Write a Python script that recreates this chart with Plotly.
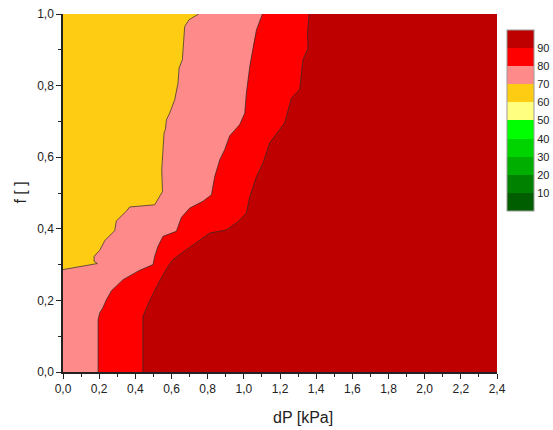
import plotly.graph_objects as go

# ---- data (dP in kPa, f dimensionless) ----
# boundary between 60-70 (yellow) and 70-80 (pink) region
b70_dp = [0.000, 0.190, 0.172, 0.172, 0.203, 0.231, 0.286, 0.295, 0.350, 0.369, 0.507, 0.516,
          0.550, 0.546, 0.553, 0.559, 0.566, 0.572, 0.590, 0.618, 0.636, 0.642, 0.660, 0.668,
          0.673, 0.697, 0.750]
b70_f = [0.286, 0.303, 0.309, 0.323, 0.340, 0.367, 0.395, 0.422, 0.449, 0.461, 0.467, 0.474,
         0.504, 0.565, 0.612, 0.668, 0.677, 0.705, 0.723, 0.761, 0.807, 0.849, 0.872, 0.919,
         0.965, 0.984, 1.000]
# boundary between 70-80 (pink) and 80-90 (red)
b80_dp = [0.194, 0.194, 0.203, 0.221, 0.240, 0.268, 0.332, 0.424, 0.498, 0.507, 0.525, 0.553,
          0.627, 0.655, 0.701, 0.774, 0.821, 0.839, 0.867, 0.894, 0.922, 0.977, 1.005, 1.014,
          1.033, 1.055, 1.070, 1.103]
b80_f = [0.000, 0.146, 0.165, 0.180, 0.202, 0.227, 0.258, 0.284, 0.300, 0.323, 0.351, 0.379,
         0.393, 0.432, 0.458, 0.477, 0.495, 0.546, 0.593, 0.621, 0.660, 0.691, 0.723, 0.779,
         0.854, 0.919, 0.956, 1.000]
# boundary between 80-90 (red) and 90-100 (dark red)
b90_dp = [0.442, 0.442, 0.480, 0.535, 0.575, 0.608, 0.655, 0.719, 0.811, 0.904, 0.968, 1.014,
          1.033, 1.070, 1.106, 1.143, 1.226, 1.263, 1.309, 1.327, 1.355, 1.352, 1.361]
b90_f = [0.000, 0.155, 0.200, 0.255, 0.290, 0.314, 0.332, 0.354, 0.388, 0.397, 0.420, 0.444,
         0.490, 0.546, 0.584, 0.640, 0.696, 0.765, 0.789, 0.872, 0.905, 0.947, 1.000]

levels = [0, 10, 20, 30, 40, 50, 60, 70, 80, 90, 100]
level_colors = ["#005E00", "#008200", "#00AE00", "#00D400", "#00FF00",
                "#FFFF80", "#FFCC14", "#FF8A8A", "#FF0000", "#BE0000"]
cbar_ticks = [10, 20, 30, 40, 50, 60, 70, 80, 90]

x_ticks = [0.0, 0.2, 0.4, 0.6, 0.8, 1.0, 1.2, 1.4, 1.6, 1.8, 2.0, 2.2, 2.4]
y_ticks = [0.0, 0.2, 0.4, 0.6, 0.8, 1.0]
X_MIN, X_MAX = 0.0, 2.4
Y_MIN, Y_MAX = 0.0, 1.0

FONT = "Arial, Liberation Sans, sans-serif"
EDGE = "#2a2a2a"

fig = go.Figure()

# filled regions, painted from the right (dark red background) leftwards
fig.add_trace(go.Scatter(x=[X_MIN, X_MAX, X_MAX, X_MIN], y=[Y_MIN, Y_MIN, Y_MAX, Y_MAX],
                         fill="toself", fillcolor=level_colors[9], mode="none",
                         hoverinfo="skip", showlegend=False))
fig.add_trace(go.Scatter(x=b90_dp + [X_MIN, X_MIN], y=b90_f + [Y_MAX, Y_MIN],
                         fill="toself", fillcolor=level_colors[8], mode="none",
                         hoverinfo="skip", showlegend=False))
fig.add_trace(go.Scatter(x=b80_dp + [X_MIN, X_MIN], y=b80_f + [Y_MAX, Y_MIN],
                         fill="toself", fillcolor=level_colors[7], mode="none",
                         hoverinfo="skip", showlegend=False))
fig.add_trace(go.Scatter(x=b70_dp + [X_MIN], y=b70_f + [Y_MAX],
                         fill="toself", fillcolor=level_colors[6], mode="none",
                         hoverinfo="skip", showlegend=False))

# contour lines
for bx, by in [(b70_dp, b70_f), (b80_dp, b80_f), (b90_dp, b90_f)]:
    fig.add_trace(go.Scatter(x=bx, y=by, mode="lines",
                             line=dict(color=EDGE, width=0.7),
                             hoverinfo="skip", showlegend=False))

# colour scale bar
cscale = []
for i, c in enumerate(level_colors):
    cscale.append([levels[i] / 100, c])
    cscale.append([levels[i + 1] / 100, c])

fig.add_trace(go.Scatter(
    x=[X_MIN, X_MIN], y=[Y_MIN, Y_MIN], mode="markers",
    marker=dict(size=0.1, opacity=0, color=[levels[0], levels[-1]],
                cmin=levels[0], cmax=levels[-1], colorscale=cscale, showscale=True,
                colorbar=dict(
                    x=1.023, xanchor="left", xpad=0,
                    y=0.955, yanchor="top", ypad=0,
                    len=0.505, lenmode="fraction",
                    thickness=27, thicknessmode="pixels",
                    outlinewidth=1, outlinecolor="#9a9a9a",
                    tickvals=cbar_ticks, ticktext=[str(t) for t in cbar_ticks],
                    ticks="", ticklen=0,
                    tickfont=dict(family=FONT, size=11, color="#222222"),
                )),
    hoverinfo="skip", showlegend=False))

fig.update_layout(
    width=553, height=430,
    margin=dict(l=63, r=56, t=14, b=58, autoexpand=False),
    paper_bgcolor="white", plot_bgcolor=level_colors[9],
    separators=", ",
    font=dict(family=FONT, color="#222222"),
    showlegend=False,
)
fig.update_xaxes(
    range=[X_MIN, X_MAX], tickvals=x_ticks, tickformat=".1f",
    showgrid=False, zeroline=False,
    showline=True, linecolor="#222222", linewidth=1.5,
    ticks="outside", ticklen=5, tickwidth=1.2, tickcolor="#222222",
    minor=dict(dtick=0.1, ticks="outside", ticklen=3, tickwidth=1, tickcolor="#222222"),
    tickfont=dict(family=FONT, size=12, color="#222222"),
)
fig.update_yaxes(
    range=[Y_MIN, Y_MAX], tickvals=y_ticks, tickformat=".1f",
    showgrid=False, zeroline=False,
    showline=True, linecolor="#222222", linewidth=1.5,
    ticks="outside", ticklen=5, tickwidth=1.2, tickcolor="#222222",
    minor=dict(dtick=0.1, ticks="outside", ticklen=3, tickwidth=1, tickcolor="#222222"),
    tickfont=dict(family=FONT, size=12, color="#222222"),
)

fig.add_annotation(text="dP [kPa]", xref="paper", yref="paper", x=0.553, y=-0.128,
                   showarrow=False, xanchor="center", yanchor="middle",
                   font=dict(family=FONT, size=16, color="#222222"))
fig.add_annotation(text="f [ ]", xref="paper", yref="paper", x=-0.100, y=0.5,
                   textangle=-90, showarrow=False, xanchor="center", yanchor="middle",
                   font=dict(family=FONT, size=16, color="#222222"))

fig.write_html("out.html",
               config={"displayModeBar": False},
               post_script="document.body.style.margin='0px';document.body.style.overflow='hidden';")
